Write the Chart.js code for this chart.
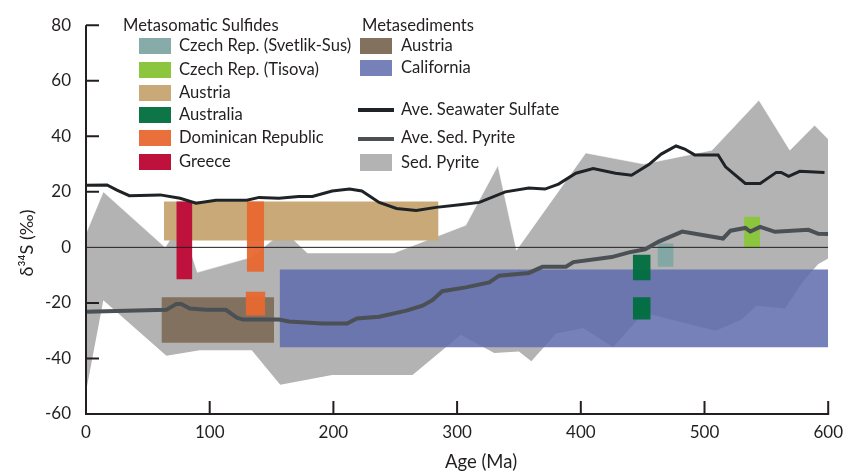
<!DOCTYPE html>
<html>
<head>
<meta charset="utf-8">
<script src="https://cdn.jsdelivr.net/npm/chart.js@4.4.0/dist/chart.umd.min.js"></script>
<style>
  html, body { margin: 0; padding: 0; background: #fff; }
</style>
</head>
<body>
<canvas id="chart" width="851" height="474"></canvas>
<script>
// Ave. seawater sulfate (black line)
const sulfateAge = [0, 17, 25, 35, 60, 76, 89, 105, 130, 140, 156, 172, 183, 199, 213, 223, 237, 251, 267, 283, 304, 318, 339, 358, 371, 382, 396, 410, 428, 441, 455, 465, 477, 484, 492, 511, 517, 523, 533, 545, 558, 562, 568, 577, 597];
const sulfateD34S = [22.4, 22.5, 20.6, 18.6, 18.9, 17.7, 15.9, 17, 17, 18, 17.7, 18.3, 18.3, 20.3, 21, 20.3, 16.2, 14, 13.3, 14.4, 15.4, 16.2, 20, 21.4, 21, 22.8, 26.7, 28.4, 26.7, 26, 29.8, 33.6, 36.5, 35.4, 33.3, 33.3, 29, 26.7, 23, 23, 27, 27, 25.6, 27.4, 27];

// Ave. sedimentary pyrite (dark grey line)
const pyriteAge = [0, 65, 68, 73, 77, 84, 97, 113, 122, 127, 156, 164, 191, 211, 219, 237, 259, 272, 280, 288, 307, 326, 334, 358, 369, 388, 394, 425, 439, 452, 463, 482, 515, 521, 533, 537, 545, 557, 584, 592, 600];
const pyriteD34S = [-23.2, -22.5, -21.7, -20.4, -20.4, -22, -22.5, -22.5, -25.3, -26, -26, -26.7, -27.4, -27.4, -25.6, -25, -22.8, -21, -19, -15.8, -14.4, -12.6, -10.2, -9.2, -7, -7, -5.3, -3.5, -1.8, -0.7, 2.1, 5.7, 3.2, 6, 7, 5.7, 7.4, 5.6, 6.3, 4.9, 4.8];

// Sed. pyrite envelope (grey area)
const envUpperAge = [0, 14, 64, 77, 90, 134, 160, 179, 249, 307, 333, 348, 404, 451, 506, 544, 569, 589, 600];
const envUpperD34S = [5, 20, 0, 9, -9, -3.5, 6, -2, -2, 8, 29.5, -1, 34, 30, 35, 53, 35, 44, 39];
const envLowerAge = [0, 14, 65, 92, 134, 157, 199, 264, 303, 330, 350, 360, 380, 402, 426, 451, 509, 530, 542, 565, 580, 592, 600];
const envLowerD34S = [-52, -19, -39, -37, -37, -49.5, -46, -46, -31.5, -38, -37.5, -41, -31, -29, -36, -23.5, -30, -26, -21, -22, -12, -6, -4];

// sample ranges: age span and d34S span
const sampleName = ["Czech Rep. (Tisova)", "Czech Rep. (Svetlik-Sus)", "Australia", "Australia", "Dominican Republic", "Greece", "Dominican Republic", "California", "Austria (metasediments)", "Austria"];
const sampleAgeFrom = [532, 462, 442, 442, 129, 73, 130, 156.5, 61, 63];
const sampleAgeTo = [545, 475, 456.5, 456.5, 145, 86, 144, 600, 152, 285];
const sampleLow = [0, -7, -11.8, -26, -24.5, -11.5, -8.8, -36, -34.3, 2.5];
const sampleHigh = [11, 1.4, -2.7, -18, -16, 16.5, 16.5, -8, -18, 16.5];

const yMarks = [80, 60, 40, 20, -20, -40];
const xMarks = [100, 200, 300, 400, 500, 600];

const colours = {
  "Czech Rep. (Tisova)": "#8cc63f",
  "Czech Rep. (Svetlik-Sus)": "rgba(127,167,163,0.95)",
  "Australia": "rgba(0,110,62,0.95)",
  "Dominican Republic": "rgba(232,104,48,0.95)",
  "Greece": "#be123c",
  "California": "rgba(96,108,174,0.86)",
  "Austria (metasediments)": "#837160",
  "Austria": "#c9a977"
};
const ink = "#231f20";
const FONT = "Lato, 'Open Sans', sans-serif";

const pts = (xs, ys) => xs.map((x, i) => ({ x, y: ys[i] }));

const rectSets = sampleName.map((name, i) => ({
  label: name,
  data: [{ x: sampleAgeFrom[i], y: sampleHigh[i] }, { x: sampleAgeTo[i], y: sampleHigh[i] }],
  fill: { value: sampleLow[i] },
  backgroundColor: colours[name],
  borderColor: "transparent",
  borderWidth: 0,
  pointRadius: 0
}));

const datasets = [
  { label: "Ave. Seawater Sulfate", data: pts(sulfateAge, sulfateD34S), borderColor: "#1f2326", borderWidth: 3, pointRadius: 0, fill: false },
  { label: "Ave. Sed. Pyrite", data: pts(pyriteAge, pyriteD34S), borderColor: "#4b5055", borderWidth: 4, pointRadius: 0, fill: false },
  { label: "zero", data: pts([0, 600], [0, 0]), borderColor: ink, borderWidth: 1, pointRadius: 0, fill: false },
  ...rectSets,
  { label: "Sed. Pyrite", data: pts(envUpperAge, envUpperD34S), borderColor: "rgba(255,255,255,0.55)", borderWidth: 1, pointRadius: 0, fill: "+1", backgroundColor: "#b3b3b3" },
  { label: "Sed. Pyrite low", data: pts(envLowerAge, envLowerD34S), borderColor: "rgba(255,255,255,0.55)", borderWidth: 1, pointRadius: 0, fill: false }
];

const legendLeft = [
  ["Czech Rep. (Svetlik-Sus)", 38], ["Czech Rep. (Tisova)", 62], ["Austria", 85],
  ["Australia", 107], ["Dominican Republic", 130], ["Greece", 154]
];

const decor = {
  id: "decor",
  afterDraw(chart) {
    const { ctx, chartArea: a, scales: { x, y } } = chart;
    ctx.save();
    // axes + inward ticks
    ctx.strokeStyle = ink;
    ctx.lineWidth = 2;
    ctx.beginPath();
    ctx.moveTo(a.left, a.top);
    ctx.lineTo(a.left, a.bottom);
    ctx.lineTo(a.right + 1, a.bottom);
    yMarks.forEach(v => { const p = y.getPixelForValue(v); ctx.moveTo(a.left, p); ctx.lineTo(a.left + 13, p); });
    xMarks.forEach(v => { const p = x.getPixelForValue(v); ctx.moveTo(p, a.bottom); ctx.lineTo(p, a.bottom - 13); });
    ctx.stroke();

    // legend
    ctx.fillStyle = ink;
    ctx.textBaseline = "middle";
    ctx.font = "16.6px " + FONT;
    ctx.fillText("Metasomatic Sulfides", 123, 26);
    ctx.fillText("Metasediments", 362, 26);
    legendLeft.forEach(([name, top]) => {
      ctx.fillStyle = colours[name];
      ctx.fillRect(139, top, 32, 16);
      ctx.fillStyle = ink;
      ctx.fillText(name, 179, top + 8);
    });
    ctx.fillStyle = colours["Austria (metasediments)"];
    ctx.fillRect(360, 38, 32, 16);
    ctx.fillStyle = colours["California"];
    ctx.fillRect(360, 60, 32, 16);
    ctx.fillStyle = "#b3b3b3";
    ctx.fillRect(360, 154, 32, 17);
    ctx.lineWidth = 4;
    ctx.strokeStyle = "#1f2326";
    ctx.beginPath(); ctx.moveTo(358, 110); ctx.lineTo(394, 110); ctx.stroke();
    ctx.strokeStyle = "#4b5055";
    ctx.beginPath(); ctx.moveTo(358, 139); ctx.lineTo(394, 139); ctx.stroke();
    ctx.fillStyle = ink;
    ctx.fillText("Austria", 401, 46);
    ctx.fillText("California", 401, 68);
    ctx.fillText("Ave. Seawater Sulfate", 401, 110);
    ctx.fillText("Ave. Sed. Pyrite", 401, 138);
    ctx.fillText("Sed. Pyrite", 401, 163);

    // axis titles
    ctx.font = "18.5px " + FONT;
    ctx.textAlign = "center";
    ctx.fillText("Age (Ma)", 481, 462);
    ctx.font = "18px " + FONT;
    ctx.translate(27, 243);
    ctx.rotate(-Math.PI / 2);
    ctx.fillText("δ³⁴S (‰)", 0, 0);
    ctx.restore();
  }
};

new Chart(document.getElementById("chart"), {
  type: "line",
  data: { datasets },
  options: {
    responsive: false,
    animation: false,
    layout: { padding: { top: 16, right: 20, left: 0, bottom: 0 } },
    plugins: { legend: { display: false }, tooltip: { enabled: false } },
    scales: {
      x: {
        type: "linear", min: 0, max: 600,
        ticks: { stepSize: 100, padding: 8, color: ink, font: { family: FONT, size: 17 } },
        grid: { display: false, drawTicks: false },
        border: { display: false },
        afterFit: s => { s.height = 60; }
      },
      y: {
        type: "linear", min: -60, max: 80,
        ticks: { stepSize: 20, padding: 15, color: ink, font: { family: FONT, size: 17 } },
        grid: { display: false, drawTicks: false },
        border: { display: false },
        afterFit: s => { s.width = 86; }
      }
    }
  },
  plugins: [decor]
});
</script>
</body>
</html>
